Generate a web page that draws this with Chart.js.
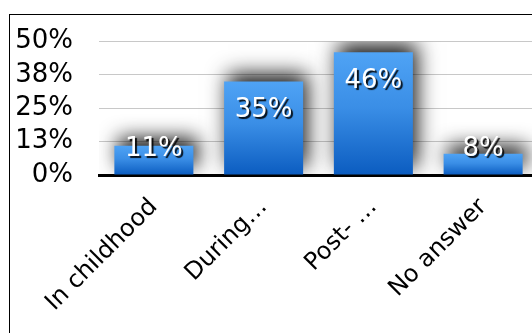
<!DOCTYPE html>
<html>
<head>
<meta charset="utf-8">
<script src="https://cdn.jsdelivr.net/npm/chart.js@4"></script>
<style>
  html, body { margin: 0; padding: 0; background: #fff; overflow: hidden; }
  body { width: 532px; height: 333px; position: relative; }
  #frame { position: absolute; left: 9px; top: 14px; width: 600px; height: 400px; border: 1px solid #000; }
  #wrap { position: absolute; left: 0; top: 0; width: 540px; height: 333px; }
</style>
</head>
<body>
<div id="frame"></div>
<div id="wrap"><canvas id="chart"></canvas></div>
<script>
// categories and percentages
const categories = ["In childhood", "During…", "Post- …", "No answer"];
const percentages = [11, 35, 46, 8];
const yTicks = [0, 12.5, 25, 37.5, 50];

// blue bar fill, lighter at the top of each bar
function barFill(context) {
  const chart = context.chart;
  const y = chart.scales.y;
  if (!chart.chartArea || !y) return "#2f80dc";
  const top = y.getPixelForValue(context.raw);
  const base = y.getPixelForValue(0);
  const g = chart.ctx.createLinearGradient(0, top, 0, base);
  g.addColorStop(0, "#4fa3f5");
  g.addColorStop(0.45, "#3a8ee6");
  g.addColorStop(1, "#0b5cc0");
  return g;
}

// soft dark glow behind the bars
const barShadow = {
  id: "barShadow",
  beforeDatasetDraw(chart) {
    const ctx = chart.ctx;
    ctx.save();
    ctx.shadowColor = "rgba(0,0,0,0.9)";
    ctx.shadowBlur = 20;
    ctx.shadowOffsetX = 4;
    ctx.shadowOffsetY = -8;
  },
  afterDatasetDraw(chart) {
    chart.ctx.restore();
  }
};

// white percentage labels near the top of each bar
const valueLabels = {
  id: "valueLabels",
  afterDatasetsDraw(chart) {
    const ctx = chart.ctx;
    const meta = chart.getDatasetMeta(0);
    ctx.save();
    ctx.font = "26px 'DejaVu Sans'";
    ctx.textAlign = "center";
    ctx.textBaseline = "middle";
    ctx.fillStyle = "#fff";
    ctx.shadowColor = "rgba(0,0,0,0.9)";
    ctx.shadowBlur = 1;
    ctx.shadowOffsetX = 2;
    ctx.shadowOffsetY = 2;
    meta.data.forEach((bar, i) => {
      const y = Math.min(bar.y + 29, 149);
      ctx.fillText(percentages[i] + "%", bar.x, y);
    });
    ctx.restore();
  }
};

new Chart(document.getElementById("chart"), {
  type: "bar",
  data: {
    labels: categories,
    datasets: [{
      data: percentages,
      backgroundColor: barFill,
      borderWidth: 0,
      barPercentage: 0.8,
      categoryPercentage: 0.9
    }]
  },
  options: {
    responsive: true,
    maintainAspectRatio: false,
    animation: false,
    layout: { padding: { top: 30, left: 0, right: 2, bottom: 0 } },
    plugins: { legend: { display: false }, tooltip: { enabled: false } },
    scales: {
      y: {
        min: 0,
        max: 50,
        afterBuildTicks: (scale) => { scale.ticks = yTicks.map((v) => ({ value: v })); },
        afterFit: (scale) => { scale.width = 99; },
        border: { display: false },
        grid: { color: "#c8c8c8", lineWidth: 1, drawTicks: false },
        ticks: {
          autoSkip: false,
          padding: 26,
          color: "#000",
          font: { family: "DejaVu Sans", size: 26 },
          callback: (v) => Math.round(v) + "%"
        }
      },
      x: {
        afterFit: (scale) => { scale.height = 158; },
        border: { display: true, color: "#000", width: 3 },
        grid: { display: false, drawTicks: false },
        ticks: {
          padding: 18,
          color: "#000",
          minRotation: 45,
          maxRotation: 45,
          autoSkip: false,
          font: { family: "DejaVu Sans", size: 24 }
        }
      }
    }
  },
  plugins: [barShadow, valueLabels]
});
</script>
</body>
</html>
